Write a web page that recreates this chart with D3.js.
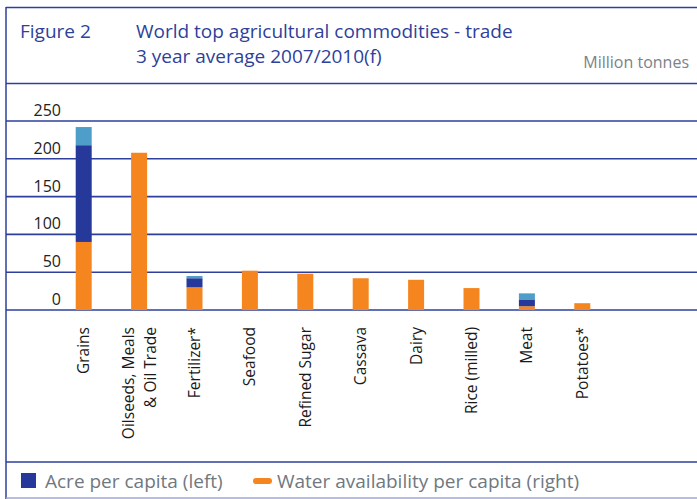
<!DOCTYPE html>
<html>
<head>
<meta charset="utf-8">
<script src="https://cdn.jsdelivr.net/npm/d3@7"></script>
<style>
  body { margin: 0; background: #fff; }
  svg { display: block; font-family: "Open Sans", sans-serif; }
</style>
</head>
<body>
<svg id="chart" width="697" height="499"></svg>
<script>
// values (million tonnes)
var categories = ["Grains", "Oilseeds, Meals|& Oil Trade", "Fertilizer*", "Seafood", "Refined Sugar",
                  "Cassava", "Dairy", "Rice (milled)", "Meat", "Potatoes*"];
var waterValues = [90, 208, 30, 52, 48, 42, 40, 29, 5, 9];
var acreValues  = [128, 0, 12, 0, 0, 0, 0, 0, 9, 0];
var otherValues = [24, 0, 3, 0, 0, 0, 0, 0, 8, 0];
var yTicks = [0, 50, 100, 150, 200, 250];

var blue = "#2f3f9c";
var colors = { water: "#f5861f", acre: "#26389a", other: "#4f9ec9" };

var svg = d3.select("#chart");

var rows = categories.map(function(c, i) {
  return { cat: c, water: waterValues[i], acre: acreValues[i], other: otherValues[i] };
});

var x = d3.scalePoint().domain(categories).range([56, 610]).padding(0.5);
var y = d3.scaleLinear().domain([0, 250]).range([310, 121]);
var barW = 16;

// frame
svg.append("line").attr("x1", 6).attr("x2", 6).attr("y1", 7).attr("y2", 499)
  .attr("stroke", blue).attr("stroke-width", 1.5);
[7.5, 83.5, 462].forEach(function(yy) {
  svg.append("line").attr("x1", 6).attr("x2", 697).attr("y1", yy).attr("y2", yy)
    .attr("stroke", blue).attr("stroke-width", 1.5);
});
svg.append("line").attr("x1", 6).attr("x2", 697).attr("y1", 498).attr("y2", 498)
  .attr("stroke", "#9ea7d4").attr("stroke-width", 1.5);

// header
svg.append("text").attr("x", 20).attr("y", 38).attr("fill", blue)
  .attr("font-size", 19).text("Figure 2");
svg.append("text").attr("x", 136).attr("y", 38).attr("fill", blue)
  .attr("font-size", 19).text("World top agricultural commodities - trade");
svg.append("text").attr("x", 136).attr("y", 63).attr("fill", blue)
  .attr("font-size", 19).text("3 year average 2007/2010(f)");
svg.append("text").attr("x", 689).attr("y", 68).attr("fill", "#7b8288")
  .attr("font-size", 16).attr("text-anchor", "end").text("Million tonnes");

// gridlines + y labels
var yAxis = d3.axisLeft(y).tickValues(yTicks).tickSize(0).tickPadding(0);
var ga = svg.append("g").attr("transform", "translate(61,0)").call(yAxis);
ga.select(".domain").remove();
ga.selectAll("text").attr("font-size", 16).attr("fill", "#222")
  .attr("font-family", "Open Sans, sans-serif")
  .attr("dy", -5.5).attr("x", 0);

svg.append("g").selectAll("line").data(yTicks).enter().append("line")
  .attr("x1", 6).attr("x2", 697)
  .attr("y1", function(d) { return y(d); }).attr("y2", function(d) { return y(d); })
  .attr("stroke", blue).attr("stroke-width", 1.6);

// stacked bars
var stack = d3.stack().keys(["water", "acre", "other"]);
var series = stack(rows);

svg.append("g").selectAll("g").data(series).enter().append("g")
  .attr("fill", function(s) { return colors[s.key]; })
  .selectAll("rect").data(function(s) { return s; }).enter().append("rect")
  .attr("x", function(d) { return x(d.data.cat) - barW / 2; })
  .attr("width", barW)
  .attr("y", function(d) { return y(d[1]); })
  .attr("height", function(d) { return y(d[0]) - y(d[1]); });

// x labels (rotated)
var xl = svg.append("g").selectAll("text").data(categories).enter().append("text")
  .attr("transform", function(d) { return "translate(" + x(d) + ",327) rotate(-90)"; })
  .attr("text-anchor", "end").attr("font-size", 15.5).attr("fill", "#1a1a1a");
xl.each(function(d) {
  var parts = d.split("|");
  var t = d3.select(this);
  parts.forEach(function(p, i) {
    var off = (i - (parts.length - 1) / 2) * 22;
    t.append("tspan").attr("x", 0).attr("y", off).attr("dy", "0.35em").text(p);
  });
});

// legend
svg.append("rect").attr("x", 21).attr("y", 473).attr("width", 15).attr("height", 15)
  .attr("fill", colors.acre);
svg.append("text").attr("x", 45).attr("y", 488).attr("font-size", 19).attr("fill", "#6f7880")
  .text("Acre per capita (left)");
svg.append("line").attr("x1", 256).attr("x2", 269).attr("y1", 481).attr("y2", 481)
  .attr("stroke", colors.water).attr("stroke-width", 6).attr("stroke-linecap", "round");
svg.append("text").attr("x", 277).attr("y", 488).attr("font-size", 19).attr("fill", "#6f7880")
  .text("Water availability per capita (right)");
</script>
</body>
</html>
